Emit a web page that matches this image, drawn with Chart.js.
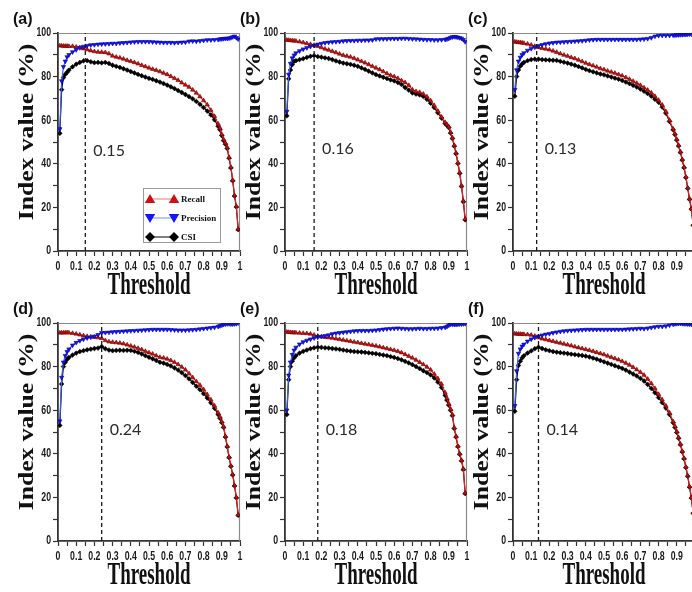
<!DOCTYPE html>
<html><head><meta charset="utf-8">
<script src="https://cdn.jsdelivr.net/npm/chart.js@4.4.1/dist/chart.umd.min.js"></script>
<style>
html,body{margin:0;padding:0;background:#fff;overflow:hidden;width:692px;height:592px;position:relative}
canvas{position:absolute}
</style></head><body>
<canvas id="c0"></canvas><canvas id="c1"></canvas><canvas id="c2"></canvas>
<canvas id="c3"></canvas><canvas id="c4"></canvas><canvas id="c5"></canvas>
<script>
// ---------- DATA ----------
const thresholds = [0.01,0.02,0.03,0.04,0.05,0.06,
 0.08,0.10,0.12,0.14,0.16,0.18,0.20,0.22,0.24,0.26,0.28,0.30,0.32,0.34,0.36,0.38,0.40,0.42,0.44,0.46,0.48,0.50,
 0.52,0.54,0.56,0.58,0.60,0.62,0.64,0.66,0.68,0.70,0.72,0.74,0.76,0.78,0.80,0.82,0.84,0.86,0.88,
 0.89,0.90,0.91,0.92,0.93,0.94,0.95,0.96,0.97,0.98,0.99];

const recallA = [94.2,94.1,94.0,94.0,94.0,93.9,
 93.9,93.6,93.3,92.8,92.4,91.9,91.5,91.3,91.2,91.1,90.5,89.5,89.0,88.6,88.1,87.5,87.0,86.5,85.9,85.2,84.6,84.0,
 83.4,82.9,82.3,81.6,81.0,80.1,79.2,78.3,77.2,76.2,75.2,73.9,72.5,70.8,69.0,67.1,64.6,61.8,58.3,
 56.4,53.5,51.2,49.5,47.5,43.0,38.5,32.5,25.5,20.5,10.0];
const csiA = [54.0,74.0,79.5,81.0,82.0,83.0,
 84.5,85.7,86.5,87.2,87.3,86.8,86.4,86.5,86.3,86.5,86.0,85.2,84.7,84.2,83.6,83.0,82.3,81.7,81.0,80.4,79.8,79.2,
 78.7,78.1,77.5,76.8,76.1,75.3,74.5,73.6,72.7,71.8,70.8,69.8,68.6,67.3,65.8,64.2,62.4,60.2,57.2,
 55.6,52.9,50.6,49.0,47.0,42.6,38.1,32.2,25.2,20.2,9.8];
const precisionA = [56.0,78.0,84.5,87.0,89.0,90.0,
 91.3,92.3,93.2,93.8,94.2,94.5,94.6,94.8,94.9,95.0,95.1,95.2,95.2,95.4,95.5,95.6,95.8,95.9,96.0,96.0,96.0,96.0,
 95.9,95.8,95.7,95.6,95.6,95.6,95.5,95.6,95.7,95.8,96.2,96.3,96.2,96.4,96.6,96.8,96.8,96.9,97.0,
 97.2,97.3,97.4,97.5,97.5,97.6,97.8,98.2,98.5,97.8,97.2];

const recallB = [96.8,96.7,96.6,96.5,96.4,96.3,
 96.0,95.6,95.2,94.8,94.4,93.9,93.3,92.7,92.2,91.6,91.0,90.4,89.8,89.4,89.0,88.4,87.7,87.0,86.3,85.5,84.7,84.0,
 83.2,82.3,81.4,80.6,80.0,79.2,78.2,77.3,76.0,74.0,73.2,72.8,72.0,70.8,69.0,66.8,64.2,61.5,59.0,
 58.0,57.0,54.5,52.0,48.5,45.0,40.5,36.0,30.0,23.0,14.7];
const csiB = [62.0,79.0,83.0,85.5,87.0,87.3,
 87.8,88.2,88.8,89.3,89.6,89.2,88.9,88.6,88.3,87.8,87.2,86.7,86.2,85.9,85.6,85.2,84.7,84.0,83.3,82.5,81.7,80.9,
 80.3,79.7,79.1,78.5,78.0,77.3,76.4,75.0,73.8,72.5,72.0,71.6,70.9,69.6,67.8,65.8,63.4,61.0,58.5,
 57.6,56.6,54.1,51.6,48.1,44.6,40.1,35.6,29.6,22.6,14.3];
const precisionB = [64.0,81.0,86.0,88.5,89.8,90.8,
 91.8,92.6,93.2,93.8,94.3,94.8,95.2,95.5,95.7,95.9,96.0,96.1,96.3,96.4,96.5,96.5,96.6,96.6,96.7,96.7,96.8,97.2,
 97.3,97.3,97.3,97.4,97.4,97.4,97.5,97.5,97.4,97.3,97.2,97.1,97.0,96.9,96.9,96.8,96.8,96.9,97.0,
 97.2,97.5,97.9,98.2,98.3,98.2,98.0,97.8,97.5,96.9,96.0];

const recallC = [96.0,95.8,95.7,95.6,95.5,95.3,
 95.0,94.5,93.9,93.4,93.0,92.7,92.3,91.8,91.2,90.5,89.9,89.4,88.8,88.3,87.6,86.9,86.2,85.6,85.0,84.4,83.7,83.2,
 82.6,82.1,81.6,81.0,80.4,79.6,78.8,77.9,77.0,76.0,74.9,73.8,72.6,71.0,69.2,67.0,64.0,60.0,56.0,
 53.8,51.2,48.5,45.5,42.0,38.5,34.0,29.0,24.0,19.5,12.0];
const csiC = [71.0,80.0,83.0,84.8,85.8,86.5,
 87.3,87.8,88.0,88.0,87.8,87.7,87.6,87.5,87.4,87.0,86.6,86.2,85.7,85.2,84.6,84.0,83.3,82.7,82.2,81.7,81.2,80.8,
 80.3,79.8,79.3,78.8,78.2,77.5,76.8,76.0,75.2,74.3,73.3,72.2,71.0,69.6,68.2,66.0,63.2,59.4,55.6,
 53.4,50.9,48.2,45.2,41.7,38.2,33.7,28.7,23.7,19.2,11.8];
const precisionC = [74.0,83.0,87.0,88.8,90.0,90.8,
 92.0,92.8,93.5,94.1,94.6,95.0,95.3,95.5,95.7,95.8,95.9,96.0,96.1,96.2,96.3,96.4,96.6,96.8,96.9,97.0,97.0,97.0,
 97.0,97.0,97.0,97.0,97.0,97.0,97.0,97.0,97.0,97.1,97.2,97.4,97.8,98.5,98.8,98.9,98.9,98.9,99.0,
 99.0,99.1,99.1,99.2,99.2,99.3,99.3,99.4,99.5,99.5,99.6];

const recallD = [95.5,95.5,95.5,95.6,95.6,95.5,
 95.3,95.0,94.6,94.2,93.9,93.7,93.5,93.3,93.0,92.0,91.4,91.2,91.0,90.8,90.5,90.0,89.5,89.0,88.4,87.8,87.0,86.4,
 85.8,85.0,84.3,84.0,83.5,82.8,82.0,81.0,79.8,78.5,76.8,75.0,73.2,71.5,69.5,67.2,64.8,62.0,58.8,
 57.0,54.8,52.5,48.0,43.5,38.5,34.5,30.5,25.5,20.0,12.0];
const csiD = [53.0,72.0,80.0,82.0,83.3,84.2,
 85.3,86.2,86.9,87.3,87.7,88.0,88.3,88.5,89.2,88.2,87.6,87.3,87.4,87.5,87.4,87.5,87.4,87.0,86.5,85.8,85.0,84.3,
 83.6,82.8,82.0,81.6,81.0,80.3,79.4,78.4,77.2,75.9,74.4,72.7,71.0,69.4,67.6,65.6,63.4,60.9,58.0,
 56.3,54.3,52.1,47.7,43.2,38.3,34.3,30.3,25.3,19.8,11.8];
const precisionD = [55.0,75.0,82.0,85.0,86.8,88.0,
 89.8,91.0,91.9,92.6,93.1,93.5,93.9,94.6,95.5,95.6,95.7,95.9,96.0,96.1,96.2,96.3,96.4,96.5,96.6,96.7,96.8,96.9,
 97.0,97.0,97.0,97.0,97.0,96.9,96.8,96.7,96.7,96.7,96.8,96.9,97.0,97.2,97.4,97.6,97.8,98.0,98.4,
 98.7,99.0,99.3,99.5,99.6,99.6,99.5,99.5,99.6,99.7,100.0];

const recallE = [95.9,95.8,95.7,95.6,95.6,95.5,
 95.4,95.3,95.2,95.0,94.5,94.0,93.7,93.5,93.3,93.1,92.8,92.5,92.2,91.9,91.6,91.3,91.0,90.7,90.4,90.1,89.8,89.5,
 89.1,88.7,88.3,87.9,87.5,87.0,86.4,85.6,84.8,84.0,83.0,82.0,81.0,79.8,78.5,76.6,74.5,72.0,68.0,
 65.5,63.0,60.5,58.0,52.0,48.0,43.5,40.0,37.0,33.0,22.0];
const csiE = [58.0,74.0,80.0,82.5,84.0,85.0,
 86.2,87.0,87.6,88.2,88.6,88.9,88.8,88.6,88.5,88.3,88.1,87.9,87.6,87.3,87.1,86.9,86.8,86.7,86.5,86.3,86.1,85.9,
 85.6,85.3,85.0,84.6,84.2,83.7,83.1,82.4,81.7,80.9,80.0,79.1,78.1,77.2,76.2,74.8,72.9,70.4,66.8,
 64.6,62.3,59.9,57.5,51.6,47.7,43.3,39.8,36.8,32.8,21.8];
const precisionE = [60.0,76.0,82.0,85.5,87.5,88.8,
 90.3,91.3,92.0,92.6,93.1,93.5,93.8,94.1,94.5,95.0,95.3,95.5,95.7,95.9,96.1,96.3,96.4,96.5,96.5,96.5,96.6,96.7,
 96.9,97.1,97.3,97.4,97.5,97.6,97.5,97.4,97.3,97.3,97.4,97.5,97.4,97.4,97.5,97.5,97.6,97.8,98.0,
 98.4,99.0,99.4,99.4,99.3,99.3,99.4,99.5,99.5,99.6,99.7];

const recallF = [95.1,95.0,94.9,94.9,94.8,94.8,
 94.7,94.5,94.0,93.3,92.8,92.4,92.0,91.6,91.2,90.8,90.4,90.0,89.6,89.1,88.7,88.3,87.9,87.5,87.0,86.5,86.0,85.5,
 84.9,84.3,83.7,83.1,82.4,81.6,80.7,79.7,78.6,77.4,76.1,74.3,72.3,70.0,67.3,64.8,62.0,58.8,54.8,
 52.6,50.2,47.5,44.5,41.2,38.0,34.0,30.0,25.0,20.0,13.0];
const csiF = [59.5,74.0,80.5,82.5,84.0,85.0,
 86.2,87.2,88.2,88.9,88.3,87.7,87.3,86.9,86.6,86.4,86.2,86.0,85.7,85.5,85.3,85.1,84.8,84.4,83.9,83.4,82.8,82.2,
 81.6,81.0,80.4,79.8,79.2,78.4,77.5,76.6,75.7,74.6,73.4,71.8,70.0,68.0,65.8,63.5,61.0,58.0,54.2,
 52.1,49.8,47.1,44.2,40.9,37.7,33.7,29.7,24.7,19.7,12.7];
const precisionF = [62.0,78.0,86.0,88.0,89.3,90.2,
 91.6,92.6,93.3,93.9,94.4,94.8,95.1,95.5,95.8,96.1,96.3,96.5,96.6,96.7,96.8,96.9,97.0,97.0,97.0,97.0,97.0,97.0,
 97.0,97.0,97.0,97.0,97.0,97.1,97.2,97.3,97.4,97.5,97.4,97.6,97.9,98.2,98.4,98.4,98.6,99.0,99.4,
 99.6,99.7,99.8,99.8,99.7,99.6,99.6,99.5,99.5,99.4,99.4];

const panelLabels = ['(a)','(b)','(c)','(d)','(e)','(f)'];
const cutoffs = [0.15,0.16,0.13,0.24,0.18,0.14];
const cutoffLabels = ['0.15','0.16','0.13','0.24','0.18','0.14'];
const cutoffLabelY = [46,47,47,51,51,51];
const yTickValues = [0,20,40,60,80,100];
const yTickLabels = ['0','20','40','60','80','100'];
const xTickValues = [0,0.1,0.2,0.3,0.4,0.5,0.6,0.7,0.8,0.9,1];
const xTickLabels = ['0','0.1','0.2','0.3','0.4','0.5','0.6','0.7','0.8','0.9','1'];
const seriesNames = ['Recall','Precision','CSI'];
const xTitle = 'Threshold';
const yTitle = 'Index value (%)';

const recalls = [recallA,recallB,recallC,recallD,recallE,recallF];
const csis = [csiA,csiB,csiC,csiD,csiE,csiF];
const precisions = [precisionA,precisionB,precisionC,precisionD,precisionE,precisionF];

// ---------- LAYOUT ----------
const panelPos = [[0,0],[227,0],[455,0],[0,290],[227,290],[455,290]];
const CW = 248, CH = 301;

const decor = {
  id:'decor',
  beforeDatasetsDraw(chart){
    const {ctx, chartArea:a} = chart;
    ctx.save();
    ctx.strokeStyle = '#8a8a8a'; ctx.lineWidth = 1.2;
    ctx.beginPath(); ctx.moveTo(a.left, a.top+0.5); ctx.lineTo(a.right-0.5, a.top+0.5); ctx.lineTo(a.right-0.5, a.bottom); ctx.stroke();
    ctx.restore();
  },
  afterDraw(chart){
    const {ctx, chartArea:a} = chart;
    const o = chart.options.plugins.decor;
    const xs = chart.scales.x, ys = chart.scales.y;
    ctx.save();
    ctx.fillStyle = '#1a1a1a';
    // tick labels (narrow bold)
    ctx.font = 'bold 12.5px "Liberation Sans",Arial,sans-serif';
    ctx.textAlign = 'center'; ctx.textBaseline = 'alphabetic';
    xTickValues.forEach((v,k) => {
      ctx.save(); ctx.translate(xs.getPixelForValue(v), a.bottom+18.5); ctx.scale(0.7,1);
      ctx.fillText(xTickLabels[k], 0, 0); ctx.restore();
    });
    ctx.textAlign = 'right'; ctx.textBaseline = 'middle';
    yTickValues.forEach((v,k) => {
      ctx.save(); ctx.translate(a.left-7, ys.getPixelForValue(v)); ctx.scale(0.7,1);
      ctx.fillText(yTickLabels[k], 0, 0); ctx.restore();
    });
    ctx.fillStyle = '#111';
    // x title (vertically stretched serif)
    ctx.font = 'bold 19px "Liberation Serif","Times New Roman",serif';
    ctx.textAlign = 'center'; ctx.textBaseline = 'alphabetic';
    ctx.save(); ctx.translate((a.left+a.right)/2, a.bottom+43); ctx.scale(1,1.65);
    ctx.fillText(xs.options.title.text, 0, 0); ctx.restore();
    // y title
    ctx.font = 'bold 20px "Liberation Serif","Times New Roman",serif';
    ctx.save(); ctx.translate(a.left-25, a.top+99); ctx.rotate(-Math.PI/2); ctx.scale(1.28,1);
    ctx.fillText(ys.options.title.text, 0, 0); ctx.restore();
    // panel label
    ctx.font = 'bold 16px "Liberation Sans",Arial,sans-serif';
    ctx.textAlign = 'left';
    ctx.fillText(o.panel, a.left-45, a.top-9);
    // cutoff label
    ctx.fillStyle = '#2a2a2a';
    ctx.font = '16px Lato,"Open Sans",sans-serif';
    ctx.textBaseline = 'middle';
    ctx.fillText(o.cutLabel, xs.getPixelForValue(o.cut)+8, ys.getPixelForValue(o.cutY));
    // legend
    if (o.legend) {
      const bx = a.left+85, by = a.top+155, bw = 77, bh = 54;
      ctx.fillStyle = '#fff'; ctx.fillRect(bx, by, bw, bh);
      ctx.strokeStyle = '#9a9a9a'; ctx.lineWidth = 1; ctx.strokeRect(bx+0.5, by+0.5, bw, bh);
      const ds = chart.data.datasets;
      const items = [ds[2], ds[1], ds[3]];
      const lineCols = ['#ff7070','#7090ff','#000'];
      items.forEach((d, k) => {
        const y = by + 11 + k*19;
        const x1 = bx+7, x2 = bx+31;
        ctx.strokeStyle = lineCols[k]; ctx.lineWidth = 1;
        ctx.beginPath(); ctx.moveTo(x1, y); ctx.lineTo(x2, y); ctx.stroke();
        ctx.fillStyle = d.pointBackgroundColor; ctx.strokeStyle = d.pointBackgroundColor;
        const po = {pointStyle:d.pointStyle, radius: d.pointStyle==='rectRot'?5:6, rotation:d.pointRotation||0, borderWidth:0};
        const dy = d.pointStyle==='triangle' ? (po.rotation?-1:1) : 0;
        Chart.helpers.drawPoint(ctx, po, x1, y + dy);
        Chart.helpers.drawPoint(ctx, po, x2, y + dy);
        ctx.fillStyle = '#111';
        ctx.font = 'bold 9px "Liberation Serif","Times New Roman",serif';
        ctx.textAlign = 'left'; ctx.textBaseline = 'middle';
        ctx.fillText(d.label, bx+38, y+1);
      });
    }
    ctx.restore();
  }
};

function pts(arr){ return thresholds.map((t,k)=>({x:t, y:arr[k]})); }

for (let i = 0; i < 6; i++) {
  const cv = document.getElementById('c'+i);
  cv.width = CW; cv.height = CH;
  cv.style.left = panelPos[i][0]+'px'; cv.style.top = panelPos[i][1]+'px';
  new Chart(cv, {
    type:'line',
    data:{datasets:[
      {label:'cutoff', data:[{x:cutoffs[i],y:0},{x:cutoffs[i],y:100}], borderColor:'#1a1a1a', borderWidth:1.3, borderDash:[4,3], pointRadius:0, order:0},
      {label:seriesNames[1], data:pts(precisions[i]), borderColor:'#3a5cff', borderWidth:1.2, pointStyle:'triangle', pointRotation:180, pointRadius:2.5,
       pointBackgroundColor:'#1414ff', pointBorderColor:'#00009a', pointBorderWidth:0.6, order:1},
      {label:seriesNames[0], data:pts(recalls[i]), borderColor:'#e82020', borderWidth:1.2, pointStyle:'triangle', pointRadius:2.5,
       pointBackgroundColor:'#d01010', pointBorderColor:'#6a0000', pointBorderWidth:0.6, order:2},
      {label:seriesNames[2], data:pts(csis[i]), borderColor:'#000', borderWidth:1.2, pointStyle:'rectRot', pointRadius:2.4,
       pointBackgroundColor:'#000', pointBorderColor:'#000', pointBorderWidth:0.5, order:3}
    ]},
    options:{
      responsive:false, animation:false, devicePixelRatio:1,
      layout:{padding:{top:33, right:8, left:0, bottom:0}},
      elements:{line:{tension:0}},
      plugins:{legend:{display:false}, tooltip:{enabled:false},
        decor:{panel:panelLabels[i], cut:cutoffs[i], cutLabel:cutoffLabels[i], cutY:cutoffLabelY[i], legend:i===0}},
      scales:{
        x:{type:'linear', min:0, max:1,
          afterFit(s){ s.height = 50; },
          ticks:{display:false, stepSize:0.05, autoSkip:false},
          grid:{drawOnChartArea:false, drawTicks:true, tickLength:5, tickColor:'#333', tickWidth:1.2},
          border:{color:'#333', width:1.8},
          title:{display:false, text:xTitle}},
        y:{min:0, max:100,
          afterFit(s){ s.width = 58; },
          ticks:{display:false, stepSize:10, autoSkip:false},
          grid:{drawOnChartArea:false, drawTicks:true, tickLength:5, tickColor:'#333', tickWidth:1.2},
          border:{color:'#333', width:1.8},
          title:{display:false, text:yTitle}}
      }
    },
    plugins:[decor]
  });
}
</script>
</body></html>
